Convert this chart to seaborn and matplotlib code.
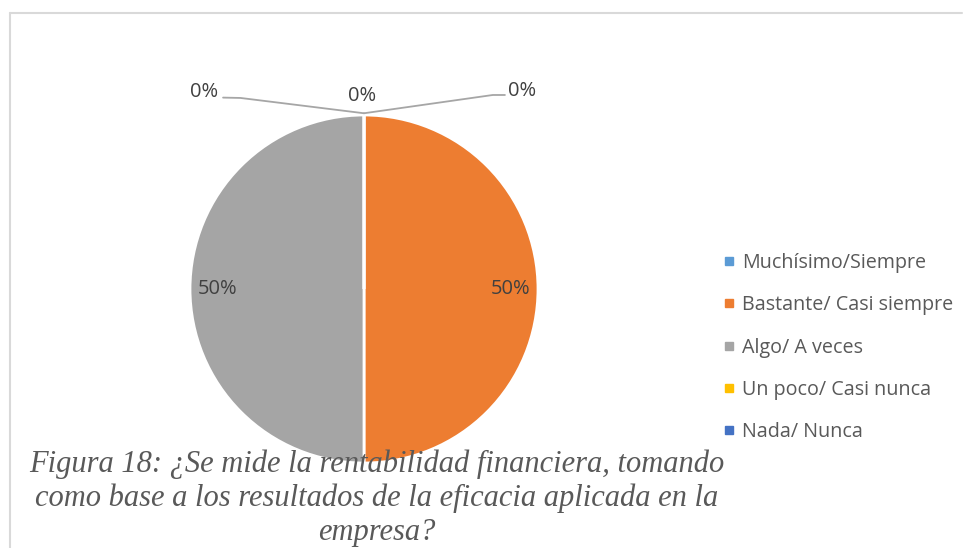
import matplotlib
matplotlib.use("Agg")
import matplotlib.pyplot as plt
import seaborn as sns
import numpy as np
from matplotlib.lines import Line2D

# datos
categorias = ["Muchísimo/Siempre", "Bastante/ Casi siempre", "Algo/ A veces",
              "Un poco/ Casi nunca", "Nada/ Nunca"]
porcentajes = [0, 50, 50, 0, 0]
colores = ["#5B9BD5", "#ED7D31", "#A5A5A5", "#FFC000", "#4472C4"]
titulo = ("Figura 18: ¿Se mide la rentabilidad financiera, tomando\n"
          "como base a los resultados de la eficacia aplicada en la\n"
          "empresa?")

sns.set_theme(style="white")
plt.rcParams['font.family'] = ['Open Sans', 'DejaVu Sans']

fig = plt.figure(figsize=(9.63, 5.48), dpi=100)
ax = fig.add_axes([190 / 963, 85 / 548, 348 / 963, 348 / 548])

wedges, _ = ax.pie(porcentajes, colors=sns.color_palette(colores), startangle=90,
                   counterclock=False, radius=1,
                   wedgeprops=dict(edgecolor="white", linewidth=2))
ax.set_xlim(-1, 1)
ax.set_ylim(-1, 1)
ax.axis('off')

# etiquetas de porcentaje (las de 0% van fuera con linea guia)
etiq_cero = [(-0.92, 1.13), (-0.01, 1.11), (0.91, 1.14)]
lineas_cero = [([-0.81, -0.71, 0], [1.10, 1.098, 1.01]),
               None,
               ([0, 0.74, 0.81], [1.01, 1.115, 1.115])]
k = 0
for w, v in zip(wedges, porcentajes):
    if v > 0:
        ang = np.deg2rad((w.theta1 + w.theta2) / 2)
        ax.text(0.84 * np.cos(ang), 0.84 * np.sin(ang), f"{v}%", ha="center",
                va="center", fontsize=14.5, color="#404040")
    else:
        x, y = etiq_cero[k]
        ax.text(x, y, f"{v}%", ha="center", va="center", fontsize=14.5,
                color="#404040")
        if lineas_cero[k] is not None:
            ax.plot(*lineas_cero[k], color="#A6A6A6", lw=1.3, clip_on=False)
        k += 1

# leyenda
handles = [Line2D([0], [0], marker="s", linestyle="none", markersize=5.5,
                  markerfacecolor=c, markeredgecolor=c) for c in colores]
fig.legend(handles, categorias, loc="center left", bbox_to_anchor=(713 / 963, 1 - 347.5 / 548),
           frameon=False, fontsize=14.2, labelcolor="#595959", handlelength=0.6,
           handletextpad=0.37, labelspacing=1.13, borderpad=0)

# marco
fig.add_artist(Line2D([10 / 963, 962 / 963], [1 - 13 / 548] * 2, color="#D9D9D9", lw=1.5))
fig.add_artist(Line2D([10 / 963] * 2, [1 - 13 / 548, 0], color="#D9D9D9", lw=1.5))

fig.text(377 / 963, 8 / 548, titulo, ha="center", va="baseline",
         family="Liberation Serif", style="italic", fontsize=22,
         color="#595959", linespacing=1.21)

fig.savefig("out.png", dpi=100)
